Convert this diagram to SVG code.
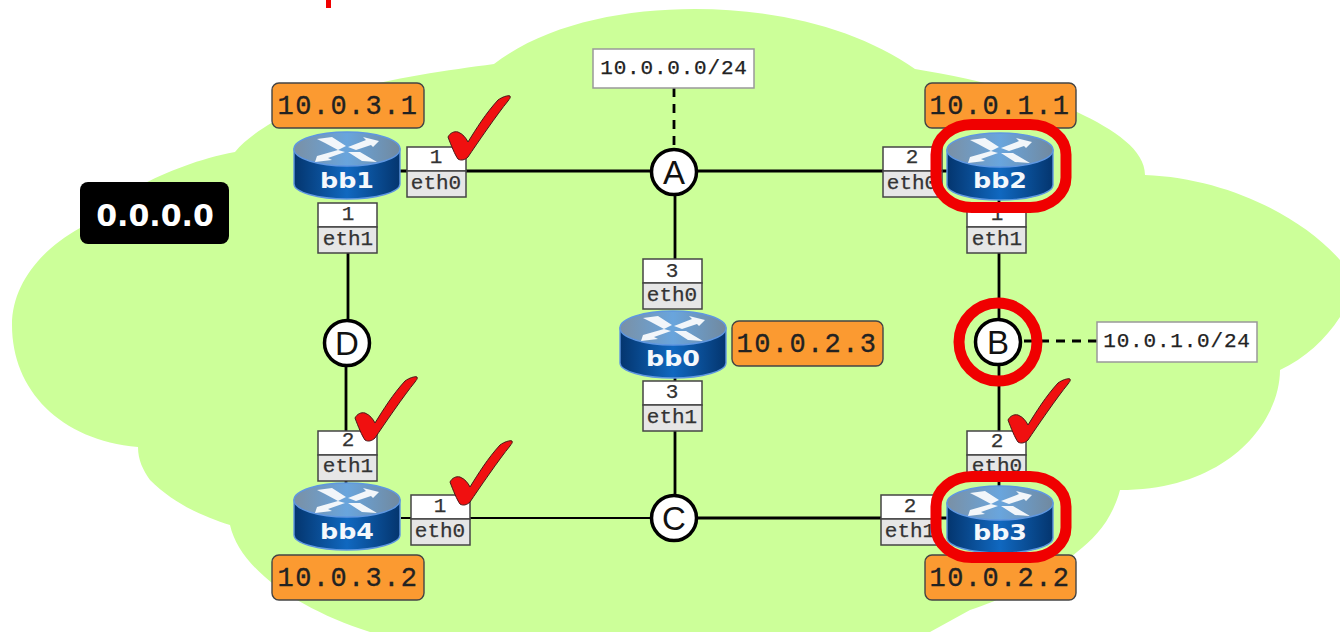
<svg xmlns="http://www.w3.org/2000/svg" width="1340" height="632" viewBox="0 0 1340 632">
<style>
text{font-family:"Liberation Mono","DejaVu Sans Mono",monospace;fill:#222;text-anchor:middle}
.ip rect{fill:#fb9a31;stroke:#444;stroke-width:1.4}
.ip text{font-size:27px;letter-spacing:1.4px;stroke:#222;stroke-width:.3}
.port text{font-size:21px;fill:#333;stroke:#333;stroke-width:.25}
.pt{fill:#fff;stroke:#444;stroke-width:1.5}
.pb{fill:#e6e6e6;stroke:#444;stroke-width:1.5}
.subnet rect{fill:#fff;stroke:#999;stroke-width:1.5}
.subnet text{font-size:21px;letter-spacing:.8px;fill:#222;stroke:#222;stroke-width:.25}
.hub circle{fill:#fff;stroke:#000;stroke-width:3.5}
.hub text{font-family:"Liberation Sans",sans-serif;font-size:33px;fill:#111}
.line{stroke:#000;stroke-width:2.8;fill:none}
.thin{stroke:#000;stroke-width:2;fill:none}
.dash{stroke:#000;stroke-width:2.8;fill:none;stroke-dasharray:9 7}
.red{fill:none;stroke:#f00000;stroke-width:11}
.rname{font-family:"DejaVu Sans",sans-serif;font-weight:bold;font-size:21px;fill:#f4f8fc}
.check{fill:#f01010;stroke:#4a1818;stroke-width:1}
</style>
<defs>
<linearGradient id="body" x1="0" x2="1" y1="0" y2="0"><stop offset="0" stop-color="#04356e"/><stop offset=".5" stop-color="#1068c0"/><stop offset="1" stop-color="#04356e"/></linearGradient>
<linearGradient id="top" x1="0" x2="1" y1="0" y2="0"><stop offset="0" stop-color="#7a90a5"/><stop offset=".5" stop-color="#69a5dd"/><stop offset="1" stop-color="#71899f"/></linearGradient>
<g id="router">
<path d="M-53-16V19C-53 27-30 34 0 34S53 27 53 19V-16Z" fill="url(#body)" stroke="#5f97e0" stroke-width="1.4"/>
<ellipse cx="0" cy="-16" rx="53" ry="17" fill="url(#top)" stroke="#5f97e0" stroke-width="1.4"/>
<path d="M-30-26L-15-28L-1-19L-9-15L-22-22ZM32-24L16-28L19-25L1-18L9-15L24-20L26-18ZM-32-3L-30-9L-9-15L-2-13L-19-7L-15-5ZM30-3L13-13L1-13L15-4Z" fill="#f2f6fa"/>
</g>
<path id="tick" class="check" d="M0 0C2-4 6-6 10-5C15-3 18 1 20 5C28-8 38-24 50-37C54-40 60-42 62-41C63-39 61-38 60-36C50-24 28 8 20 20C17 23 13 24 10 22C7 18 3 8 0 0Z"/>
<g id="port-top"><rect class="pt" width="59" height="24"/><rect class="pb" y="24" width="59" height="26"/></g>
</defs>
<rect width="1340" height="632" fill="#fff"/>
<path id="cloud" fill="#ccff99" d="M12 325C12 285 40 250 80 228C100 205 165 165 235 152C255 128 300 105 345 92C390 78 450 70 494 64C545 25 620 9 695 9C780 9 860 30 915 69C970 78 1030 92 1077 112C1115 130 1145 150 1145 175C1225 178 1300 215 1340 260L1340 317C1325 340 1305 358 1280 370C1280 420 1230 490 1120 490C1112 520 1095 538 1077 552C1045 580 1000 600 970 610L930 632L370 632C300 610 240 570 230 525C205 517 175 505 150 480C143 470 138 460 138 447C60 440 12 390 12 325Z"/>
<rect x="326" y="0" width="5" height="8" fill="#f00000"/>
<g id="connectors">
<path class="line" d="M400 171H950M675 171V290M675 378V518M348 203V320M346 365V440M346 470V490M670 518H950M999 200V320M999 365V440M999 470V490"/>
<path class="thin" d="M401 518H670"/>
<path class="dash" d="M674 88V150M1024 341H1098"/>
</g>
<g id="subnets" class="subnet">
<g id="net-a"><rect x="593" y="49" width="161" height="39"/><text x="674" y="74">10.0.0.0/24</text></g>
<g id="net-b"><rect x="1097" y="322" width="160" height="40"/><text x="1177" y="347">10.0.1.0/24</text></g>
</g>
<g id="hub-a" class="hub"><circle cx="674" cy="172" r="22.500"/><text x="674" y="184">A</text></g>
<g id="hub-b" class="hub"><circle cx="998" cy="342" r="22.500"/><text x="998" y="354">B</text></g>
<g id="hub-c" class="hub"><circle cx="674" cy="518" r="22.500"/><text x="674" y="530">C</text></g>
<g id="hub-d" class="hub"><circle cx="347" cy="343" r="22.500"/><text x="347" y="355">D</text></g>
<g id="area"><rect x="80" y="182" width="149" height="62" rx="8" fill="#000"/><text x="155" y="226" style="font-family:'DejaVu Sans',sans-serif;font-weight:bold;font-size:30px;fill:#fff">0.0.0.0</text></g>
<g class="port">
<g id="p1"><use href="#port-top" x="407" y="147"/><text x="436" y="163">1</text><text x="436" y="189">eth0</text></g>
<g id="p2"><use href="#port-top" x="318" y="203"/><text x="348" y="220">1</text><text x="348" y="245">eth1</text></g>
<g id="p3"><use href="#port-top" x="883" y="147"/><text x="912" y="163">2</text><text x="912" y="189">eth0</text></g>
<g id="p4"><use href="#port-top" x="967" y="203"/><text x="997" y="220">1</text><text x="997" y="245">eth1</text></g>
<g id="p5"><use href="#port-top" x="643" y="259"/><text x="672" y="277">3</text><text x="672" y="301">eth0</text></g>
<g id="p6"><use href="#port-top" x="643" y="381"/><text x="672" y="398">3</text><text x="672" y="423">eth1</text></g>
<g id="p7"><use href="#port-top" x="318" y="431"/><text x="348" y="446">2</text><text x="348" y="472">eth1</text></g>
<g id="p8"><use href="#port-top" x="411" y="495"/><text x="440" y="512">1</text><text x="440" y="537">eth0</text></g>
<g id="p9"><use href="#port-top" x="967" y="431"/><text x="997" y="447">2</text><text x="997" y="472">eth0</text></g>
<g id="p10"><use href="#port-top" x="881" y="495"/><text x="910" y="512">2</text><text x="910" y="537">eth1</text></g>
</g>
<g id="bb1"><use href="#router" x="347" y="165"/><text class="rname" x="347" y="188" textLength="54" lengthAdjust="spacingAndGlyphs">bb1</text></g>
<g id="bb2"><use href="#router" x="1000" y="166"/><text class="rname" x="1000" y="188" textLength="54" lengthAdjust="spacingAndGlyphs">bb2</text></g>
<g id="bb0"><use href="#router" x="673" y="344"/><text class="rname" x="673" y="366" textLength="54" lengthAdjust="spacingAndGlyphs">bb0</text></g>
<g id="bb3"><use href="#router" x="1000" y="519"/><text class="rname" x="1000" y="540" textLength="54" lengthAdjust="spacingAndGlyphs">bb3</text></g>
<g id="bb4"><use href="#router" x="347" y="516"/><text class="rname" x="347" y="539" textLength="54" lengthAdjust="spacingAndGlyphs">bb4</text></g>
<g class="ip"><g id="ip-bb1"><rect x="272" y="83" width="152" height="45" rx="7"/><text x="348" y="114">10.0.3.1</text></g>
<g id="ip-bb2"><rect x="925" y="83" width="151" height="45" rx="7"/><text x="1000" y="114">10.0.1.1</text></g>
<g id="ip-bb0"><rect x="732" y="321" width="151" height="45" rx="7"/><text x="807" y="352">10.0.2.3</text></g>
<g id="ip-bb4"><rect x="272" y="555" width="152" height="45" rx="7"/><text x="348" y="586">10.0.3.2</text></g>
<g id="ip-bb3"><rect x="925" y="555" width="151" height="45" rx="7"/><text x="1000" y="586">10.0.2.2</text></g></g>
<g id="marks">
<rect class="red" x="936" y="124.500" width="130" height="83" rx="36" ry="30"/>
<rect class="red" x="936" y="476.500" width="130" height="81" rx="36" ry="30"/>
<circle class="red" cx="998" cy="342" r="39"/>
<use href="#tick" x="448" y="137"/>
<use href="#tick" x="355" y="418"/>
<use href="#tick" x="450" y="482"/>
<use href="#tick" x="1008" y="420"/>
</g>
</svg>
